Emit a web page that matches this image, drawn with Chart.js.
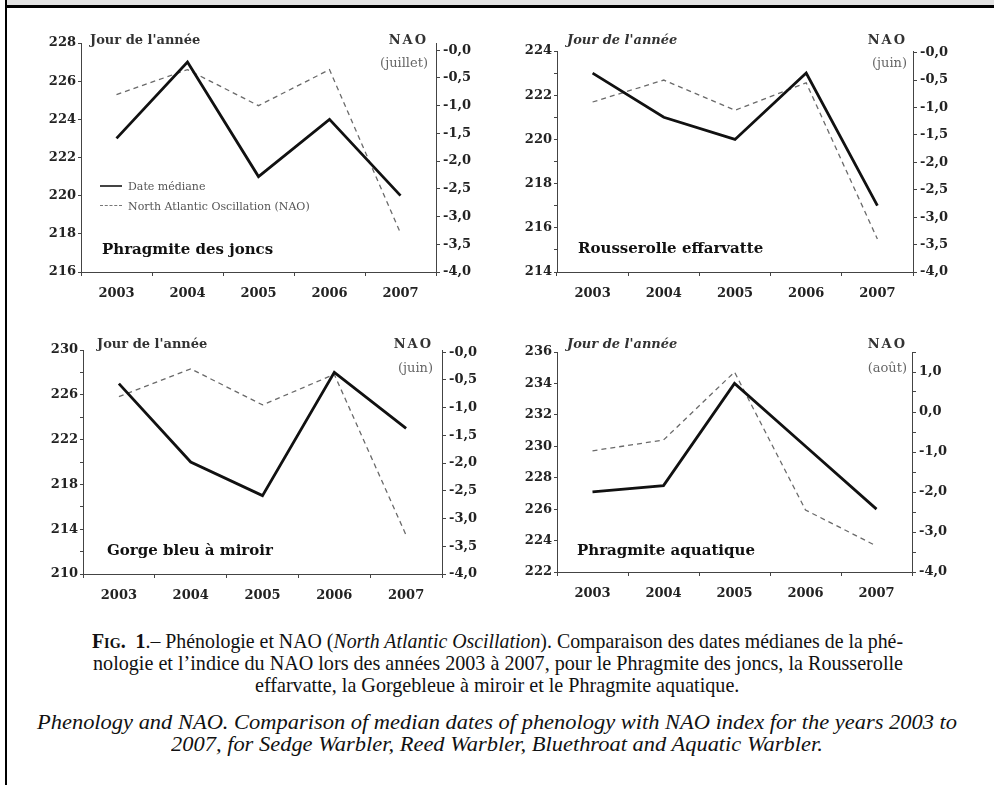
<!DOCTYPE html>
<html><head><meta charset="utf-8">
<script src="https://cdn.jsdelivr.net/npm/chart.js@4.4.1/dist/chart.umd.min.js"></script>
<style>
html,body{margin:0;padding:0;background:#fff;}
body{width:994px;height:785px;position:relative;overflow:hidden;}
#band{position:absolute;left:7px;top:0;width:987px;height:5px;background:#e2e2e2;}
#topline{position:absolute;left:5px;top:5px;width:989px;height:3px;background:#000;}
#leftline{position:absolute;left:5px;top:0;width:2px;height:785px;background:#000;}
canvas{position:absolute;}
.lbl{position:absolute;font-family:"DejaVu Serif",serif;white-space:nowrap;}
.cap{position:absolute;font-family:"Liberation Serif","Times New Roman",serif;font-size:21px;color:#111;white-space:nowrap;transform-origin:0 50%;line-height:22px;}
.sc{font-variant:small-caps;}
</style></head>
<body>
<div id="band"></div><div id="topline"></div><div id="leftline"></div>
<script>
// ---------- data ----------
const years = ['2003', '2004', '2005', '2006', '2007'];
const seriesLabels = ['Date médiane', 'North Atlantic Oscillation (NAO)'];
const panelTitles = ['Phragmite des joncs', 'Rousserolle effarvatte', 'Gorge bleu à miroir', 'Phragmite aquatique'];
const naoMonths = ['(juillet)', '(juin)', '(juin)', '(août)'];
const leftAxisTitle = "Jour de l'année";
const rightAxisTitle = 'NAO';

const medianSedge   = [223, 227, 221, 224, 220];
const naoSedge      = [-0.8, -0.35, -1.0, -0.35, -3.3];
const medianReed    = [223, 221, 220, 223, 217];
const naoReed       = [-0.9, -0.5, -1.05, -0.55, -3.4];
const medianBlue    = [227, 220, 217, 228, 223];
const naoBlue       = [-0.8, -0.3, -0.95, -0.4, -3.3];
const medianAquatic = [227.1, 227.5, 234, 230, 226];
const naoAquatic    = [-0.97, -0.7, 1.0, -2.45, -3.35];

// left axis: min, max, tick step, label every
const leftTicks = [[216, 228, 2, 2], [214, 224, 1, 2], [210, 230, 2, 4], [222, 236, 2, 2]];
// right axis: min, max, tick step, label every
const rightTicks = [[-4, 0.13, 0.5, 0.5], [-4, 0.03, 0.5, 0.5], [-4, 0.04, 0.5, 0.5], [-4, 1.5, 0.5, 1]];

// ---------- layout ----------
const panels = [
  {median: medianSedge, nao: naoSedge, canvas: [10, 10, 480, 300], area: [81, 43, 436, 272],
   jour: [90, 39, false], naoLbl: [428, 39], month: [428, 62], title: [102, 249], legend: [100, 186, 206]},
  {median: medianReed, nao: naoReed, canvas: [497, 10, 490, 300], area: [557, 51, 913, 272],
   jour: [567, 39, true], naoLbl: [907, 39], month: [907, 62], title: [578, 248]},
  {median: medianBlue, nao: naoBlue, canvas: [10, 312, 480, 300], area: [83, 350, 442, 574],
   jour: [97, 343, false], naoLbl: [433, 343], month: [433, 367], title: [107, 550]},
  {median: medianAquatic, nao: naoAquatic, canvas: [497, 312, 490, 300], area: [557, 352, 912, 572],
   jour: [567, 343, true], naoLbl: [907, 343], month: [907, 367], title: [577, 550]}
];

function fmtNAO(v, idx) {
  const r = Math.round(v * 10) / 10;
  if (r === 0) return idx === 3 ? '0,0' : '-0,0';
  return (r < 0 ? '-' : '') + Math.abs(r).toFixed(1).replace('.', ',');
}
function isMult(v, base, every) {
  const k = (v - base) / every;
  return Math.abs(k - Math.round(k)) < 1e-6;
}

const tickFont = {family: '"DejaVu Serif", serif', size: 13, weight: 'bold'};
const axisColor = '#444';

function addLabel(text, x, y, opts) {
  const d = document.createElement('div');
  d.className = 'lbl';
  d.textContent = text;
  const size = opts.size || 13;
  d.style.fontSize = size + 'px';
  d.style.lineHeight = size + 'px';
  d.style.top = (y - size / 2) + 'px';
  if (opts.right) d.style.right = (994 - x) + 'px'; else d.style.left = x + 'px';
  if (opts.bold) d.style.fontWeight = 'bold';
  if (opts.italic) d.style.fontStyle = 'italic';
  d.style.color = opts.color || '#222';
  if (opts.ls) d.style.letterSpacing = opts.ls + 'px';
  document.body.appendChild(d);
  return d;
}

panels.forEach((p, i) => {
  const [cx, cy, cw, ch] = p.canvas;
  const [al, at, ar, ab] = p.area;
  const cv = document.createElement('canvas');
  cv.width = cw; cv.height = ch;
  cv.style.left = cx + 'px'; cv.style.top = cy + 'px';
  cv.style.width = cw + 'px'; cv.style.height = ch + 'px';
  document.body.appendChild(cv);
  const leftW = al - cx, rightW = cx + cw - ar, padTop = at - cy, bottomH = cy + ch - ab;
  const [lmin, lmax, lstep, levery] = leftTicks[i];
  const [rmin, rmax, rstep, revery] = rightTicks[i];
  new Chart(cv.getContext('2d'), {
    type: 'line',
    data: {
      labels: years,
      datasets: [
        {label: seriesLabels[0], data: p.median, yAxisID: 'y', borderColor: '#111', borderWidth: 2.8,
         pointRadius: 0, tension: 0, fill: false, order: 1},
        {label: seriesLabels[1], data: p.nao, yAxisID: 'y2', borderColor: '#6a6a6a', borderWidth: 1.3,
         borderDash: [5, 4], pointRadius: 0, tension: 0, fill: false, order: 2}
      ]
    },
    options: {
      responsive: false, animation: false, devicePixelRatio: 1,
      layout: {padding: {top: padTop, left: 0, right: 0, bottom: 0}},
      plugins: {legend: {display: false}, tooltip: {enabled: false}},
      scales: {
        x: {
          type: 'category', offset: true,
          grid: {display: true, drawOnChartArea: false, offset: true, tickLength: 4, color: axisColor},
          border: {display: true, dash: [1.5, 1.5], color: axisColor, width: 1},
          ticks: {font: tickFont, color: '#222', padding: 10, maxRotation: 0, autoSkip: false},
          afterFit: s => { s.height = bottomH; }
        },
        y: {
          position: 'left', min: lmin, max: lmax,
          grid: {display: true, drawOnChartArea: false, tickLength: 3, color: axisColor},
          border: {display: true, dash: [1.5, 1.5], color: axisColor, width: 1},
          ticks: {stepSize: lstep, autoSkip: false, font: tickFont, color: '#222', padding: 2,
                  callback: v => isMult(v, lmin, levery) ? String(Math.round(v)) : ''},
          afterFit: s => { s.width = leftW; }
        },
        y2: {
          position: 'right', min: rmin, max: rmax,
          grid: {display: true, drawOnChartArea: false, tickLength: 4, color: axisColor},
          border: {display: true, dash: [1.5, 1.5], color: axisColor, width: 1},
          ticks: {stepSize: rstep, includeBounds: false, autoSkip: false, font: tickFont, color: '#222', padding: 3,
                  callback: v => isMult(v, rmin, revery) ? fmtNAO(v, i) : ''},
          afterFit: s => { s.width = rightW; }
        }
      }
    }
  });

  addLabel(leftAxisTitle, p.jour[0], p.jour[1], {bold: true, italic: p.jour[2], size: 13, color: '#333'});
  addLabel(rightAxisTitle, p.naoLbl[0], p.naoLbl[1], {right: true, bold: true, size: 13, color: '#333', ls: 2});
  addLabel(naoMonths[i], p.month[0], p.month[1], {right: true, size: 13, color: '#666'});
  addLabel(panelTitles[i], p.title[0], p.title[1], {bold: true, size: 15, color: '#111'});

  if (p.legend) {
    const [lx, ly1, ly2] = p.legend;
    [ly1, ly2].forEach((ly, k) => {
      const sample = document.createElement('div');
      sample.style.position = 'absolute';
      sample.style.left = lx + 'px';
      sample.style.width = '22px';
      sample.style.top = (ly - 1) + 'px';
      sample.style.borderTop = k === 0 ? '2px solid #444' : '1px dashed #777';
      document.body.appendChild(sample);
      addLabel(seriesLabels[k], lx + 28, ly, {size: 11, color: '#555'});
    });
  }
});

// ---------- caption ----------
const capLines = [
  {html: '<b><span class="sc">Fig.</span>&nbsp; 1</b>.– Phénologie et NAO (<i>North Atlantic Oscillation</i>). Comparaison des dates médianes de la phé-', y: 641, l: 92, r: 903},
  {html: 'nologie et l’indice du NAO lors des années 2003 à 2007, pour le Phragmite des joncs, la Rousserolle', y: 663, l: 93, r: 903},
  {html: 'effarvatte, la Gorgebleue à miroir et le Phragmite aquatique.', y: 685, c: 497, ref: 1},
  {html: '<i>Phenology and NAO. Comparison of median dates of phenology with NAO index for the years 2003 to</i>', y: 722, l: 37, r: 957},
  {html: '<i>2007, for Sedge Warbler, Reed Warbler, Bluethroat and Aquatic Warbler.</i>', y: 744, c: 497, ref: 3}
];
const scales = [];
capLines.forEach((ln, k) => {
  const d = document.createElement('div');
  d.className = 'cap';
  d.innerHTML = ln.html;
  d.style.top = (ln.y - 11) + 'px';
  d.style.left = '0px';
  document.body.appendChild(d);
  const w = d.getBoundingClientRect().width;
  let s;
  if (ln.r !== undefined) {
    s = (ln.r - ln.l) / w;
    d.style.left = ln.l + 'px';
  } else {
    s = scales[ln.ref];
    d.style.left = (ln.c - w * s / 2) + 'px';
  }
  scales[k] = s;
  d.style.transform = 'scaleX(' + s + ')';
});
</script>
</body></html>
